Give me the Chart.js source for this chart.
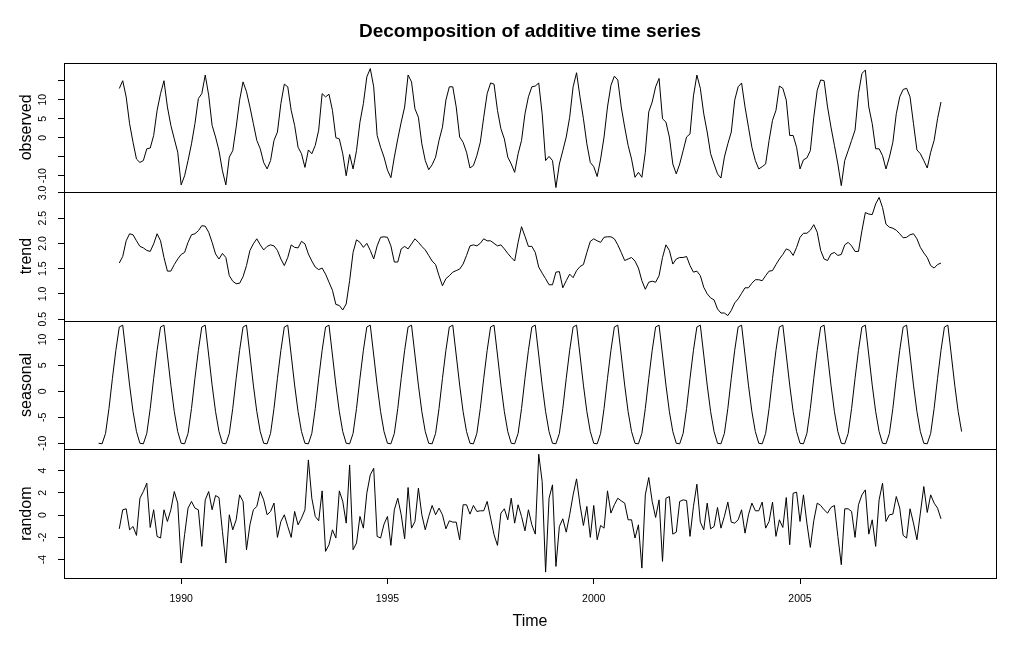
<!DOCTYPE html>
<html>
<head>
<meta charset="utf-8">
<script src="https://cdn.jsdelivr.net/npm/chart.js@4.4.1/dist/chart.umd.min.js"></script>
<style>
  html, body { margin: 0; padding: 0; background: #fff; }
  #wrap { width: 1024px; height: 653px; }
</style>
</head>
<body>
<div id="wrap"><canvas id="chart" width="1024" height="653"></canvas></div>
<script>
// monthly series, first value is July 1988 (index 6 of the seasonal year)
const startYear = 1988;
const firstMonth = 6;
const seasonYears = 21;

const observed = [
  12.95, 15.0, 10.75, 3.7, -1.2, -5.6, -6.5, -6.0, -2.9, -2.7, 0.6, 7.2,
  11.6, 15.0, 8.1, 3.25, -0.3, -3.8, -12.4, -10.0, -6.0, -1.6, 3.7, 10.3,
  11.6, 16.5, 11.2, 3.25, 0.2, -3.4, -8.7, -12.4, -5.1, -3.4, 2.8, 9.9,
  14.7, 12.1, 8.1, 3.7, -0.7, -2.9, -6.5, -8.2, -6.0, -0.7, 1.5, 9.0,
  14.1, 13.4, 7.2, 3.25, -2.5, -4.2, -7.8, -3.2, -4.2, -2.0, 2.0, 11.6,
  10.75, 11.45, 7.2, 0.0, -0.3, -4.2, -10.0, -4.4, -8.2, -3.4, 4.1, 9.0,
  16.0, 18.2, 13.4, 0.6, -2.5, -5.1, -8.5, -10.5, -5.1, -0.3, 4.1, 8.1,
  16.5, 14.7, 7.6, 5.4, -1.6, -6.0, -8.4, -7.1, -5.1, -0.7, 2.8, 9.9,
  13.4, 13.4, 8.1, 0.2, -1.2, -3.8, -7.95, -7.3, -4.7, -1.2, 5.4, 11.6,
  14.4, 14.1, 7.2, 2.35, -0.3, -5.1, -6.9, -9.1, -4.2, -0.7, 6.3, 10.75,
  13.4, 13.6, 14.4, 6.3, -6.0, -4.9, -6.0, -13.1, -6.9, -3.4, 0.2, 5.4,
  13.4, 17.1, 10.75, 5.0, -1.6, -6.5, -7.6, -10.2, -5.6, 0.2, 8.1, 13.8,
  16.2, 15.2, 8.1, 2.8, -2.0, -5.6, -10.4, -9.1, -10.4, -3.8, 6.8, 9.4,
  13.4, 15.6, 5.0, 4.1, 0.2, -6.9, -9.5, -6.9, -3.4, 0.2, 1.0, 11.0,
  16.5, 13.0, 6.3, 1.5, -4.2, -6.9, -9.5, -10.6, -5.1, -1.6, 1.5, 9.9,
  13.4, 14.4, 8.1, 2.8, -2.5, -6.0, -8.2, -7.6, -6.9, -0.7, 4.6, 7.2,
  13.6, 13.0, 9.9, 0.6, 0.6, -2.5, -8.2, -5.8, -5.3, -3.4, 5.4, 12.5,
  15.2, 15.0, 8.1, 2.8, -2.0, -6.9, -12.6, -6.0, -3.4, -0.7, 2.0, 11.6,
  16.9, 17.8, 8.1, 3.7, -2.9, -2.9, -4.7, -8.2, -5.1, -1.2, 6.3, 10.75,
  12.7, 13.0, 10.75, 3.7, -3.2, -4.2, -6.0, -7.95, -3.8, -0.7, 5.0, 9.4
];

const trend = [
  1.61, 1.74, 2.05, 2.19, 2.17, 2.05, 1.94, 1.91, 1.86, 1.84, 1.99, 2.19,
  2.05, 1.72, 1.45, 1.45, 1.58, 1.69, 1.78, 1.82, 2.02, 2.17, 2.19, 2.25,
  2.35, 2.34, 2.22, 2.02, 1.79, 1.69, 1.80, 1.72, 1.36, 1.25, 1.20, 1.21,
  1.34, 1.56, 1.86, 1.99, 2.09, 1.97, 1.87, 1.94, 1.97, 1.95, 1.86, 1.69,
  1.56, 1.72, 1.97, 1.92, 1.91, 2.04, 1.99, 1.79, 1.65, 1.53, 1.48, 1.51,
  1.39, 1.23, 1.07, 0.79, 0.77, 0.68, 0.80, 1.26, 1.82, 2.07, 2.02, 1.92,
  2.00, 1.86, 1.69, 1.95, 2.12, 2.13, 2.12, 1.95, 1.63, 1.63, 1.89, 1.94,
  1.89, 1.99, 2.09, 2.02, 1.94, 1.87, 1.76, 1.65, 1.58, 1.36, 1.16, 1.30,
  1.36, 1.43, 1.46, 1.49, 1.59, 1.76, 1.95, 1.97, 1.95, 2.00, 2.09, 2.05,
  2.05, 2.00, 1.95, 1.97, 1.89, 1.80, 1.72, 1.65, 2.02, 2.33, 2.14, 1.94,
  1.94, 1.82, 1.53, 1.41, 1.30, 1.18, 1.18, 1.43, 1.44, 1.12, 1.26, 1.39,
  1.32, 1.46, 1.54, 1.58, 1.82, 2.04, 2.09, 2.05, 2.02, 2.12, 2.13, 2.13,
  2.09, 1.97, 1.82, 1.66, 1.69, 1.72, 1.65, 1.51, 1.26, 1.09, 1.23, 1.25,
  1.23, 1.36, 1.72, 1.97, 1.86, 1.59, 1.69, 1.72, 1.72, 1.74, 1.56, 1.43,
  1.45, 1.36, 1.13, 1.00, 0.92, 0.88, 0.70, 0.62, 0.62, 0.57, 0.67, 0.82,
  0.90, 1.01, 1.12, 1.12, 1.21, 1.28, 1.28, 1.26, 1.36, 1.45, 1.46, 1.58,
  1.69, 1.78, 1.89, 1.86, 1.76, 1.92, 2.12, 2.20, 2.20, 2.26, 2.37, 2.22,
  1.86, 1.69, 1.66, 1.79, 1.82, 1.76, 1.78, 1.97, 2.02, 1.95, 1.84, 1.84,
  2.25, 2.61, 2.58, 2.57, 2.78, 2.91, 2.71, 2.38, 2.32, 2.30, 2.26, 2.19,
  2.11, 2.12, 2.17, 2.19, 2.09, 1.92, 1.81, 1.72, 1.56, 1.51, 1.58, 1.61
];

// seasonal figure, January to December
const seasonalFigure = [-10.0, -10.1, -8.1, -3.3, 2.5, 7.9, 12.4, 12.75, 7.0, 1.2, -3.9, -7.75];

const random = [
  -1.23, 0.48, 0.57, -1.32, -1.02, -1.82, 1.52, 2.12, 2.87, -1.11, 0.48, -1.91,
  -2.06, 0.48, -0.57, 0.48, 2.12, 1.08, -4.31, -1.76, 0.63, 1.23, 0.63, 0.48,
  -2.81, 1.37, 2.12, 0.48, 1.76, 1.58, -1.47, -4.31, 0.03, -1.32, -0.42, 1.82,
  1.23, -3.11, -0.87, 0.48, 0.78, 2.12, 1.37, 0.03, 0.33, 1.08, -2.0, -0.57,
  0.03, -1.02, -2.0, 0.33, -0.87, -0.27, 0.48, 4.96, 1.52, -0.12, -0.51, 2.18,
  -3.26, -2.66, -1.32, -2.06, 2.18, 1.23, -0.72, 4.51, -3.11, -2.51, -0.12, -1.17,
  1.97, 3.62, 4.21, -1.91, -2.06, -0.81, -0.12, -2.72, 0.48, 1.52, 0.03, -2.12,
  2.48, -1.17, -0.57, 2.42, 0.03, -1.32, -0.12, 0.87, 0.03, 0.63, 0.03, -1.23,
  -0.51, -0.63, -0.63, -2.21, 0.93, 0.93, 0.09, 0.87, 0.33, 0.39, 0.39, 1.23,
  -0.27, -1.76, -2.72, 0.18, 0.57, -0.42, 1.52, -0.72, 0.93, -0.12, -1.41, 0.48,
  -0.87, -1.71, 5.47, 3.02, -5.12, 1.52, 2.72, -4.61, -1.02, -0.33, -1.53, 0.03,
  1.82, 3.26, 0.93, -0.93, 0.78, -2.0, 0.87, -2.21, -0.93, -1.17, 2.18, 0.18,
  0.93, 1.52, 1.28, 1.08, -0.42, -0.42, -2.06, -0.87, -4.76, 1.82, 3.38, 1.23,
  -0.21, 1.37, -4.16, 1.52, 1.67, -1.71, -1.53, 1.23, 1.37, 1.31, -1.91, 0.78,
  2.78, -0.63, -1.32, 1.08, -1.23, -1.02, 0.69, -1.17, -0.12, 1.17, -0.63, -0.72,
  -0.42, 0.48, -1.62, 0.03, 1.08, 0.39, 0.39, 1.17, -1.17, -0.57, 1.17, -1.91,
  -0.42, -1.11, 1.58, -2.66, 1.97, 2.06, -0.57, 1.82, -0.72, -2.9, -0.51, 1.08,
  0.87, 0.48, 0.18, 0.69, 0.87, -1.91, -4.46, 0.57, 0.57, 0.33, -2.0, 0.93,
  1.82, 2.27, -1.71, -0.42, -2.81, 1.37, 2.87, -0.57, 0.03, 0.09, 1.67, 0.63,
  -1.82, -2.06, 0.57, -0.72, -2.21, 0.18, 2.57, 0.24, 1.82, 1.08, 0.63, -0.33
];

const timeTicks = [1990, 1995, 2000, 2005];
const observedTicks = [-10, -5, 0, 5, 10, 15];
const observedLabelled = [-10, 0, 5, 10];
const trendTicks = [0.5, 1.0, 1.5, 2.0, 2.5, 3.0];
const seasonalTicks = [-10, -5, 0, 5, 10];
const randomTicks = [-4, -2, 0, 2, 4];

const FONT = '"Liberation Sans", Arial, sans-serif';
const TICK_SIZE = 10.5;
Chart.defaults.font.family = FONT;
Chart.defaults.color = '#000';

const measureCtx = document.createElement('canvas').getContext('2d');
measureCtx.font = TICK_SIZE + 'px ' + FONT;
function widest(labels) {
  return Math.max(...labels.map(s => measureCtx.measureText(s).width));
}

function monthPoints(values, offset) {
  return values.map((v, k) => ({ x: startYear + (offset + k) / 12, y: v }));
}

const seasonal = [];
for (let yr = 0; yr < seasonYears; yr++) seasonal.push(...seasonalFigure);

function panel(title, min, max, ticks, fmt, weight) {
  const labels = ticks.map(fmt).filter(s => s !== '');
  return {
    type: 'linear',
    position: 'left',
    stack: 'panels',
    stackWeight: 1,
    weight: weight,
    min: min,
    max: max,
    afterBuildTicks: s => { s.ticks = ticks.map(v => ({ value: v })); },
    afterFit: s => { s.width = 64; },
    ticks: {
      autoSkip: false,
      minRotation: 90,
      maxRotation: 90,
      crossAlign: 'center',
      padding: 15 - widest(labels) / 2,
      font: { size: TICK_SIZE },
      callback: v => fmt(v)
    },
    grid: { drawOnChartArea: false, color: '#000', tickLength: 6 },
    border: { display: true, color: '#000' },
    title: { display: true, text: title, font: { size: 16 }, padding: { top: 17, bottom: 0 } }
  };
}

// draws the box round each panel, as R does
const panelBoxes = {
  id: 'panelBoxes',
  afterDraw(chart) {
    const { ctx, chartArea } = chart;
    const x1 = Math.round(chartArea.left) + 0.5;
    const x2 = Math.round(chartArea.right) + 0.5;
    ctx.save();
    ctx.strokeStyle = '#000';
    ctx.lineWidth = 1;
    ['observed', 'trend', 'seasonal', 'random'].forEach(id => {
      const s = chart.scales[id];
      const y1 = Math.round(s.top) + 0.5;
      const y2 = Math.round(s.bottom) + 0.5;
      ctx.strokeRect(x1, y1, x2 - x1, y2 - y1);
    });
    ctx.restore();
  }
};

function line(data, axis) {
  return {
    data: data,
    yAxisID: axis,
    borderColor: '#000',
    borderWidth: 1,
    pointRadius: 0,
    tension: 0,
    fill: false
  };
}

new Chart(document.getElementById('chart'), {
  type: 'line',
  data: {
    datasets: [
      line(monthPoints(observed, firstMonth), 'observed'),
      line(monthPoints(trend, firstMonth), 'trend'),
      line(monthPoints(seasonal, 0), 'seasonal'),
      line(monthPoints(random, firstMonth), 'random')
    ]
  },
  options: {
    responsive: false,
    animation: false,
    events: [],
    layout: { padding: { left: 0, right: 28, top: 0, bottom: 0 } },
    plugins: {
      legend: { display: false },
      tooltip: { enabled: false },
      title: {
        display: true,
        fullSize: false,
        text: 'Decomposition of additive time series',
        color: '#000',
        font: { size: 19, weight: 'bold' },
        padding: { top: 20, bottom: 20.2 }
      }
    },
    scales: {
      x: {
        type: 'linear',
        position: 'bottom',
        min: 1987.16,
        max: 2009.75,
        afterBuildTicks: s => { s.ticks = timeTicks.map(v => ({ value: v })); },
        afterFit: s => { s.height = 75; },
        ticks: { autoSkip: false, maxRotation: 0, padding: 9, font: { size: TICK_SIZE }, callback: v => String(v) },
        grid: { drawOnChartArea: false, color: '#000', tickLength: 6 },
        border: { display: true, color: '#000' },
        title: { display: true, text: 'Time', font: { size: 16 }, padding: { top: 0, bottom: 22 } }
      },
      observed: panel('observed', -14.2, 19.66, observedTicks,
        v => observedLabelled.includes(v) ? String(v) : '', 4),
      trend: panel('trend', 0.472, 3.022, trendTicks, v => v.toFixed(1), 3),
      seasonal: panel('seasonal', -11.15, 13.65, seasonalTicks, v => String(v), 2),
      random: panel('random', -5.65, 5.92, randomTicks, v => String(v), 1)
    }
  },
  plugins: [panelBoxes]
});
</script>
</body>
</html>
